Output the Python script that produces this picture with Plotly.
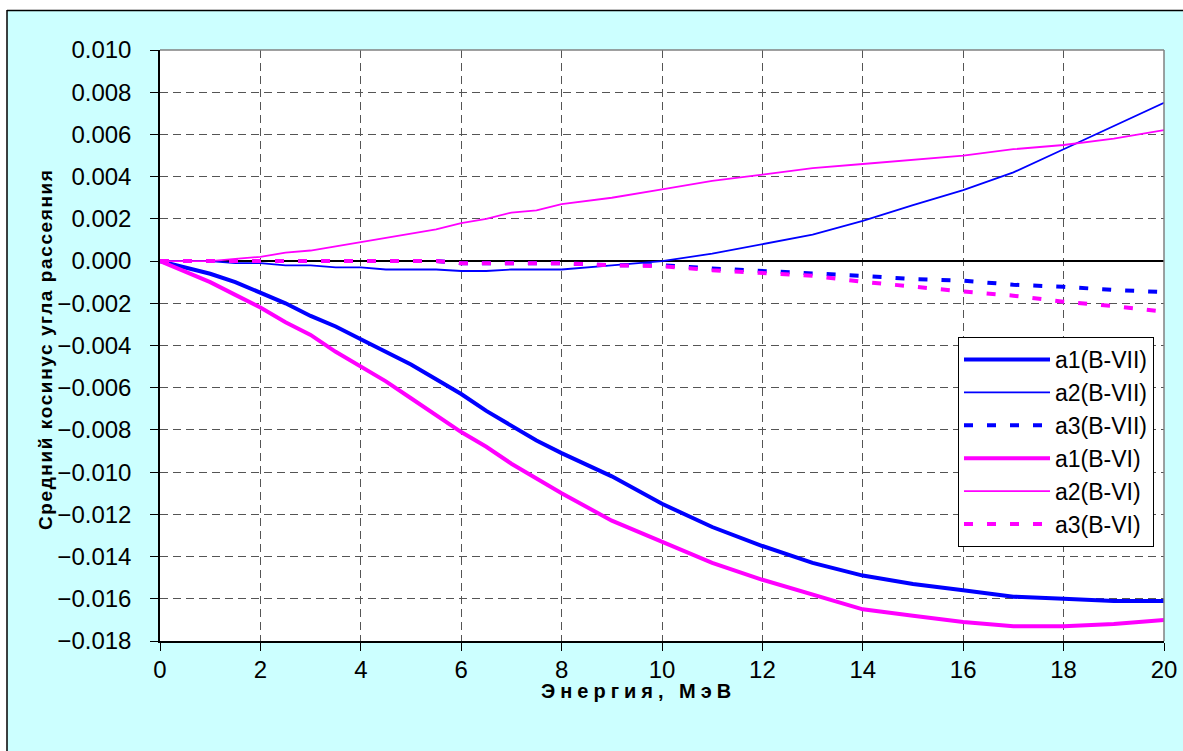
import plotly.graph_objects as go

# Energy grid, MeV
energy = [0, 0.5, 1, 1.5, 2, 2.5, 3, 3.5, 4, 4.5, 5, 5.5, 6, 6.5, 7, 7.5, 8,
          9, 10, 11, 12, 13, 14, 15, 16, 17, 18, 19, 20]

a1_b7 = [0, -0.0003, -0.0006, -0.0010, -0.0015, -0.0020, -0.0026, -0.0031, -0.0037,
         -0.0043, -0.0049, -0.0056, -0.0063, -0.0071, -0.0078, -0.0085, -0.0091,
         -0.0102, -0.0115, -0.0126, -0.0135, -0.0143, -0.0149, -0.0153, -0.0156,
         -0.0159, -0.0160, -0.0161, -0.0161]
a2_b7 = [0, 0, 0, -0.0001, -0.0001, -0.0002, -0.0002, -0.0003, -0.0003, -0.0004,
         -0.0004, -0.0004, -0.00047, -0.00047, -0.0004, -0.0004, -0.0004,
         -0.0002, 0.0000, 0.00035, 0.0008, 0.00125, 0.0019, 0.00265, 0.00336,
         0.0042, 0.0053, 0.0064, 0.0075]
a3_b7 = [0, 0, 0, 0, 0, 0, 0, 0, 0, 0, 0, 0, -0.0001, -0.0001, -0.0001, -0.0001,
         -0.0001, -0.0002, -0.0002, -0.00035, -0.00046, -0.00058, -0.0007,
         -0.00085, -0.00093, -0.00112, -0.00122, -0.00137, -0.00147]
a1_b6 = [0, -0.0005, -0.0010, -0.0016, -0.0022, -0.0029, -0.0035, -0.0043, -0.0050,
         -0.0057, -0.0065, -0.0073, -0.0081, -0.0088, -0.0096, -0.0103, -0.0110,
         -0.0123, -0.0133, -0.0143, -0.0151, -0.0158, -0.0165, -0.0168, -0.0171,
         -0.0173, -0.0173, -0.0172, -0.0170]
a2_b6 = [0, 0, 0, 0.0001, 0.0002, 0.0004, 0.0005, 0.0007, 0.0009, 0.0011, 0.0013,
         0.0015, 0.0018, 0.0020, 0.0023, 0.0024, 0.0027, 0.0030, 0.0034, 0.0038,
         0.0041, 0.0044, 0.0046, 0.0048, 0.0050, 0.0053, 0.0055, 0.0058, 0.0062]
a3_b6 = [0, 0, 0, 0, 0, 0, 0, 0, 0, 0, 0, 0, -0.0001, -0.0001, -0.0001, -0.0001,
         -0.0001, -0.0002, -0.00024, -0.00043, -0.00055, -0.0007, -0.00098,
         -0.00122, -0.00144, -0.00164, -0.00193, -0.00213, -0.0024]

series_names = ["a1(B-VII)", "a2(B-VII)", "a3(B-VII)", "a1(B-VI)", "a2(B-VI)", "a3(B-VI)"]
series_values = [a1_b7, a2_b7, a3_b7, a1_b6, a2_b6, a3_b6]
series_colors = ["#0000FF", "#0000FF", "#0000FF", "#FF00FF", "#FF00FF", "#FF00FF"]
series_widths = [4, 1.8, 4, 4, 1.8, 4]
series_dash = ["solid", "solid", "9px,14px", "solid", "solid", "9px,14px"]

x_title = "Энергия, МэВ"
y_title = "Средний косинус угла рассеяния"

FONT = "Liberation Sans, Arial, sans-serif"
W, H = 1183, 751
L, R, T, B = 160, 1164, 50, 641   # plot area in pixels


def px(p):
    return (p - L) / (R - L)


def py(q):
    return (B - q) / (B - T)


fig = go.Figure()
for i, (name, vals) in enumerate(zip(series_names, series_values)):
    fig.add_trace(go.Scatter(
        x=energy, y=vals, mode="lines", name=name, legendgroup=str(i),
        line=dict(color=series_colors[i], width=series_widths[i], dash=series_dash[i]),
    ))

grid_color = "#555555"
fig.update_xaxes(
    range=[0, 20], dtick=2, tick0=0, showgrid=True, gridcolor=grid_color,
    griddash="8px,5px", gridwidth=1, showline=True, linecolor="black", linewidth=1.5,
    ticks="outside", ticklen=8, tickcolor="black", zeroline=False, automargin=False,
    ticklabelstandoff=-2,
    tickfont=dict(family=FONT, size=24, color="black"),
)
fig.update_yaxes(
    range=[-0.018, 0.010], dtick=0.002, tick0=0, tickformat=".3f", showgrid=True,
    gridcolor=grid_color, griddash="8px,5px", gridwidth=1, showline=True,
    linecolor="black", linewidth=1.5, ticks="outside", ticklen=8, tickcolor="black",
    zeroline=True, zerolinecolor="black", zerolinewidth=2, automargin=False,
    ticklabelstandoff=14,
    tickfont=dict(family=FONT, size=24, color="black"),
)

shapes = [
    # white strips outside the chart frame
    dict(type="rect", xref="paper", yref="paper", x0=px(0), x1=px(W), y0=py(10), y1=py(0),
         fillcolor="white", line=dict(width=0), layer="below"),
    dict(type="rect", xref="paper", yref="paper", x0=px(0), x1=px(7), y0=py(H), y1=py(0),
         fillcolor="white", line=dict(width=0), layer="below"),
    # chart frame border
    dict(type="line", xref="paper", yref="paper", x0=px(7), x1=px(W), y0=py(10.5), y1=py(10.5),
         line=dict(color="black", width=1.5)),
    dict(type="line", xref="paper", yref="paper", x0=px(7), x1=px(7), y0=py(10), y1=py(H),
         line=dict(color="black", width=1.5)),
    # top and right plot-area border
    dict(type="line", xref="paper", yref="paper", x0=0, x1=1, y0=1, y1=1,
         line=dict(color="#808080", width=1.5)),
    dict(type="line", xref="paper", yref="paper", x0=1, x1=1, y0=0, y1=1,
         line=dict(color="#808080", width=1.5)),
]

annotations = [
    dict(text=f"<b><span style='letter-spacing:5px'>{x_title}</span></b>",
         xref="paper", yref="paper", x=px(638), y=py(691),
         xanchor="center", yanchor="middle", showarrow=False,
         font=dict(family=FONT, size=20, color="black")),
    dict(text=f"<b><span style='letter-spacing:1.6px'>{y_title}</span></b>",
         xref="paper", yref="paper", x=px(45), y=py(350),
         xanchor="center", yanchor="middle", showarrow=False, textangle=-90,
         font=dict(family=FONT, size=19, color="black")),
]

fig.update_layout(
    width=W, height=H,
    margin=dict(l=L, r=W - R, t=T, b=H - B, pad=0, autoexpand=False),
    paper_bgcolor="#CCFFFF", plot_bgcolor="white",
    shapes=shapes, annotations=annotations,
    showlegend=True,
    legend=dict(
        x=px(958), y=py(337), xanchor="left", yanchor="top",
        bgcolor="white", bordercolor="black", borderwidth=1,
        font=dict(family=FONT, size=23, color="black"),
        itemwidth=86, tracegroupgap=5.5, traceorder="normal",
    ),
)

fig.write_html("out.html")
